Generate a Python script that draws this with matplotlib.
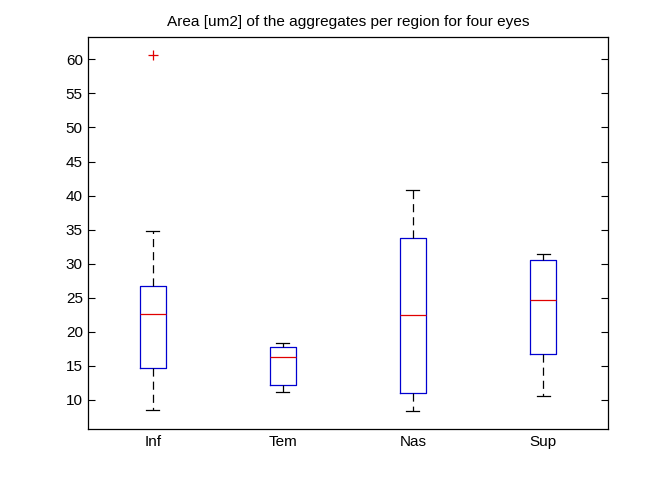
import matplotlib
matplotlib.use('Agg')
import matplotlib.pyplot as plt

plt.rcParams['font.family'] = ['Liberation Sans', 'DejaVu Sans']

regions = ['Inf', 'Tem', 'Nas', 'Sup']
whislo = [8.47, 11.16, 8.37, 10.6]
q1 = [14.68, 12.19, 11.0, 16.74]
med = [22.57, 16.30, 22.42, 24.67]
q3 = [26.8, 17.77, 33.72, 30.49]
whishi = [34.75, 18.31, 40.77, 31.37]
fliers = [[60.63], [], [], []]

stats = []
for i in range(len(regions)):
    stats.append(dict(label=regions[i], whislo=whislo[i], q1=q1[i], med=med[i],
                      q3=q3[i], whishi=whishi[i], fliers=fliers[i]))

fig = plt.figure(figsize=(6.72, 5.04), dpi=100)
ax = fig.add_axes([0.1305, 0.1488, 0.7745, 0.7772])

lw = 0.9
ax.bxp(stats, widths=0.2, showfliers=True,
       boxprops=dict(color='#0000d0', linewidth=lw),
       medianprops=dict(color='#e00000', linewidth=lw),
       whiskerprops=dict(color='black', linestyle=(0, (6.5, 4)), linewidth=lw),
       capprops=dict(color='black', linewidth=lw),
       flierprops=dict(marker='+', markeredgecolor='#e00000', markersize=7, markeredgewidth=lw))

ax.set_xlim(0.5, 4.5)
ax.set_ylim(5.74, 63.23)
ax.set_yticks(range(10, 61, 5))
ax.tick_params(axis='y', direction='in', left=True, right=True, length=5, labelsize=11)
ax.tick_params(axis='x', length=0, labelsize=11, pad=4)
for s in ax.spines.values():
    s.set_linewidth(lw)
ax.set_title('Area [um2] of the aggregates per region for four eyes', fontsize=11.1, pad=8)

fig.savefig('out.png', dpi=100)
